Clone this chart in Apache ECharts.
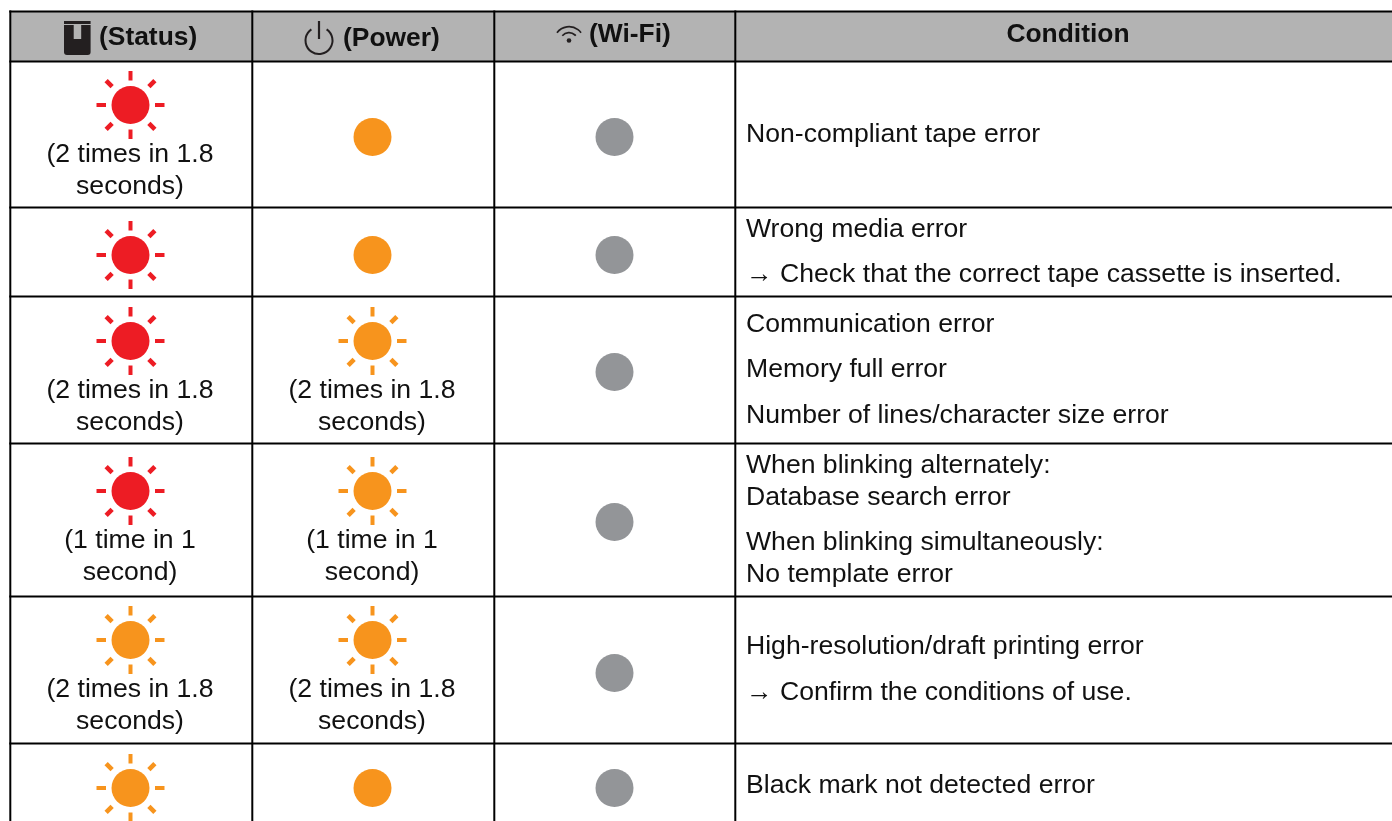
<!DOCTYPE html>
<html>
<head>
<meta charset="utf-8">
<title>LED indications</title>
<script src="https://cdn.jsdelivr.net/npm/echarts@6/dist/echarts.min.js"></script>
<style>
    html, body {margin: 0; padding: 0; background: #fff;}
    #main {width: 1392px; height: 821px;}
</style>
</head>
<body>
<div id="main"></div>
<script>
// table content, one entry per row
var headers = ['(Status)', '(Power)', '(Wi-Fi)', 'Condition'];
var statusColor = ['red', 'red', 'red', 'red', 'orange', 'orange'];
var statusBlink = [true, true, true, true, true, true];
var statusNote = [
    ['(2 times in 1.8', 'seconds)'],
    [],
    ['(2 times in 1.8', 'seconds)'],
    ['(1 time in 1', 'second)'],
    ['(2 times in 1.8', 'seconds)'],
    []
];
var powerColor = ['orange', 'orange', 'orange', 'orange', 'orange', 'orange'];
var powerBlink = [false, false, true, true, true, false];
var powerNote = [
    [],
    [],
    ['(2 times in 1.8', 'seconds)'],
    ['(1 time in 1', 'second)'],
    ['(2 times in 1.8', 'seconds)'],
    []
];
var wifiColor = ['grey', 'grey', 'grey', 'grey', 'grey', 'grey'];
var conditionLines = [
    ['Non-compliant tape error'],
    ['Wrong media error', '→ Check that the correct tape cassette is inserted.'],
    ['Communication error', 'Memory full error', 'Number of lines/character size error'],
    ['When blinking alternately:', 'Database search error', 'When blinking simultaneously:', 'No template error'],
    ['High-resolution/draft printing error', '→ Confirm the conditions of use.'],
    ['Black mark not detected error']
];

// layout
var columnEdges = [10.3, 252.3, 494.3, 735.3, 1400];
var rowEdges = [11.5, 61.5, 207.5, 296.5, 443.5, 596.5, 743.5, 830];
var columnCenter = [130.5, 372.5, 614.5];
var blinkY = [105, 255, 341, 491, 640, 788];
var solidY = [137, 255, 341, 491, 640, 788];
var wifiY = [137, 255, 372, 522, 673, 788];
var conditionY = [
    [135],
    [230, 275],
    [325, 370, 416],
    [466, 498, 543, 575],
    [647, 693],
    [786]
];
var colors = {red: '#ED1C24', orange: '#F7941D', grey: '#939598'};
var bodyFont = '26.6px "Liberation Sans", Arial, sans-serif';
var headFont = 'bold 26.4px "Liberation Sans", Arial, sans-serif';
var iconColor = '#231F20';

// lamps
var lamps = [];
for (var i = 0; i < 6; i++) {
    lamps.push([columnCenter[0], statusBlink[i] ? blinkY[i] : solidY[i], statusColor[i], statusBlink[i]]);
    lamps.push([columnCenter[1], powerBlink[i] ? blinkY[i] : solidY[i], powerColor[i], powerBlink[i]]);
    lamps.push([columnCenter[2], wifiY[i], wifiColor[i], false]);
}

// every text in the table
var texts = [
    {x: 99, y: 38, text: headers[0], align: 'left', font: headFont},
    {x: 343, y: 39, text: headers[1], align: 'left', font: headFont},
    {x: 589, y: 35, text: headers[2], align: 'left', font: headFont},
    {x: 1068, y: 35, text: headers[3], align: 'center', font: headFont}
];
function addNote(note, x, lampY) {
    for (var n = 0; n < note.length; n++) {
        texts.push({x: x, y: lampY + 50 + n * 32, text: note[n], align: 'center', font: bodyFont});
    }
}
for (var r = 0; r < 6; r++) {
    addNote(statusNote[r], columnCenter[0] - 0.5, blinkY[r]);
    addNote(powerNote[r], columnCenter[1] - 0.5, blinkY[r]);
    for (var c = 0; c < conditionLines[r].length; c++) {
        texts.push({x: 746, y: conditionY[r][c], text: conditionLines[r][c], align: 'left', font: bodyFont});
    }
}

function renderTable(params, api) {
    var kids = [];
    var a = api.coord([columnEdges[0], rowEdges[0]]);
    var b = api.coord([columnEdges[4], rowEdges[1]]);
    kids.push({type: 'rect', shape: {x: a[0], y: a[1], width: b[0] - a[0], height: b[1] - a[1]}, style: {fill: '#B3B3B3'}});
    for (var i = 0; i < columnEdges.length - 1; i++) {
        var p = api.coord([columnEdges[i], rowEdges[0] - 1]);
        var q = api.coord([columnEdges[i], rowEdges[7]]);
        kids.push({type: 'line', shape: {x1: p[0], y1: p[1], x2: q[0], y2: q[1]}, style: {stroke: '#000', lineWidth: 2}});
    }
    for (var j = 0; j < rowEdges.length - 1; j++) {
        var s = api.coord([columnEdges[0] - 1, rowEdges[j]]);
        var t = api.coord([columnEdges[4], rowEdges[j]]);
        kids.push({type: 'line', shape: {x1: s[0], y1: s[1], x2: t[0], y2: t[1]}, style: {stroke: '#000', lineWidth: 2}});
    }
    return {type: 'group', children: kids};
}

function renderLamp(params, api) {
    var lamp = lamps[params.dataIndex];
    var c = api.coord([api.value(0), api.value(1)]);
    var fill = colors[lamp[2]];
    var kids = [{type: 'circle', shape: {cx: c[0], cy: c[1], r: 19}, style: {fill: fill}}];
    if (lamp[3]) {
        for (var k = 0; k < 8; k++) {
            var ang = k * Math.PI / 4;
            var inner = k % 2 ? 26 : 24.5;
            var outer = k % 2 ? 34.5 : 34;
            kids.push({
                type: 'line',
                shape: {
                    x1: c[0] + Math.cos(ang) * inner, y1: c[1] + Math.sin(ang) * inner,
                    x2: c[0] + Math.cos(ang) * outer, y2: c[1] + Math.sin(ang) * outer
                },
                style: {stroke: fill, lineWidth: k % 2 ? 4.6 : 4}
            });
        }
    }
    return {type: 'group', children: kids};
}

function renderText(params, api) {
    var item = texts[params.dataIndex];
    var c = api.coord([api.value(0), api.value(1)]);
    return {
        type: 'text',
        style: {x: c[0], y: c[1], text: item.text, font: item.font, fill: '#111', align: item.align, verticalAlign: 'middle'}
    };
}

// the three small pictures in the header
function renderIcons(params, api) {
    var st = api.coord([64, 21]);
    var pw = api.coord([319, 40.5]);
    var wf = api.coord([569, 41.7]);
    return {
        type: 'group',
        children: [
            {type: 'rect', shape: {x: st[0], y: st[1], width: 26.6, height: 3}, style: {fill: iconColor}},
            {type: 'rect', shape: {x: st[0], y: st[1] + 4, width: 26.6, height: 30, r: [0, 0, 3, 3]}, style: {fill: iconColor}},
            {type: 'rect', shape: {x: st[0] + 9.7, y: st[1] + 3, width: 7.5, height: 15}, style: {fill: '#B3B3B3'}},
            {type: 'arc', shape: {cx: pw[0], cy: pw[1], r: 13.5, startAngle: -Math.PI / 2 + 0.6, endAngle: -Math.PI / 2 - 0.6, clockwise: true}, style: {stroke: iconColor, fill: null, lineWidth: 2}},
            {type: 'line', shape: {x1: pw[0], y1: pw[1] - 19.5, x2: pw[0], y2: pw[1] - 1.5}, style: {stroke: iconColor, lineWidth: 2.2}},
            {type: 'arc', shape: {cx: wf[0], cy: wf[1], r: 15, startAngle: -Math.PI / 2 - 0.93, endAngle: -Math.PI / 2 + 0.93, clockwise: true}, style: {stroke: iconColor, fill: null, lineWidth: 1.7}},
            {type: 'arc', shape: {cx: wf[0], cy: wf[1], r: 9, startAngle: -Math.PI / 2 - 0.84, endAngle: -Math.PI / 2 + 0.84, clockwise: true}, style: {stroke: iconColor, fill: null, lineWidth: 1.7}},
            {type: 'circle', shape: {cx: wf[0], cy: wf[1] - 1.2, r: 2.3}, style: {fill: iconColor}}
        ]
    };
}

var myChart = echarts.init(document.getElementById('main'));
var option = {
    animation: false,
    backgroundColor: '#fff',
    grid: {left: 0, right: 0, top: 0, bottom: 0},
    xAxis: {type: 'value', min: 0, max: 1392, show: false},
    yAxis: {type: 'value', min: 0, max: 821, inverse: true, show: false},
    series: [
        {type: 'custom', coordinateSystem: 'cartesian2d', renderItem: renderTable, data: [[0, 0]], silent: true},
        {type: 'custom', coordinateSystem: 'cartesian2d', renderItem: renderIcons, data: [[0, 0]], silent: true},
        {
            type: 'custom', coordinateSystem: 'cartesian2d', renderItem: renderLamp, silent: true,
            data: lamps.map(function (d) { return [d[0], d[1]]; })
        },
        {
            type: 'custom', coordinateSystem: 'cartesian2d', renderItem: renderText, silent: true,
            data: texts.map(function (d) { return [d.x, d.y]; })
        }
    ]
};
myChart.setOption(option);
</script>
</body>
</html>
